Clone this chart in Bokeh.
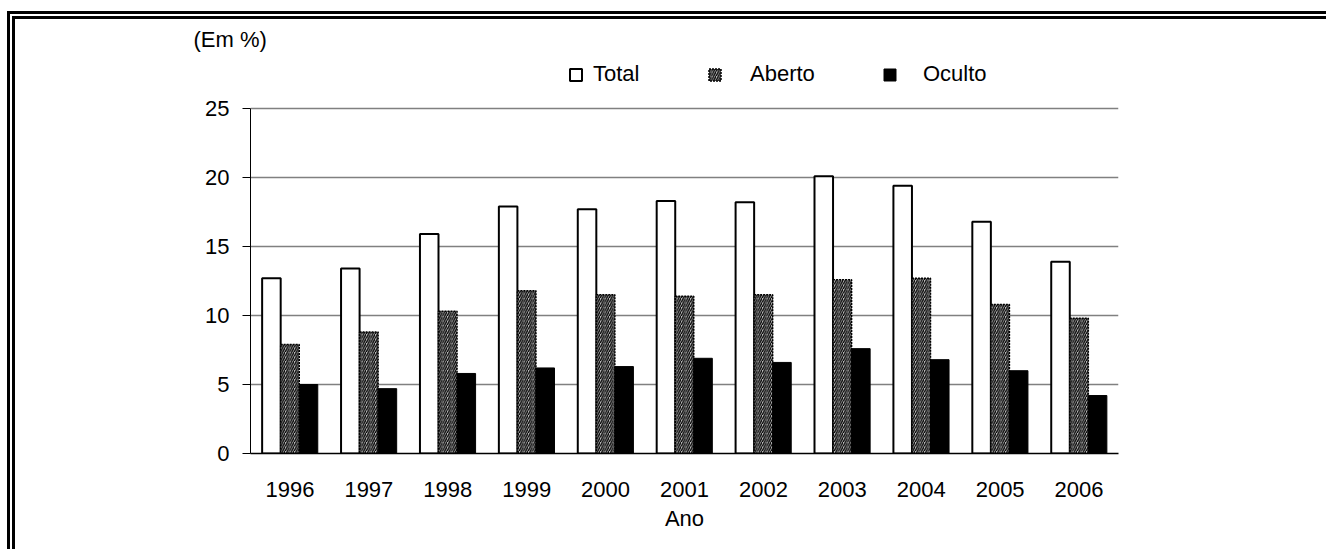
from bokeh.plotting import figure
from bokeh.models import ColumnDataSource, FactorRange, Range1d, FixedTicker, Legend, LegendItem, Title
from bokeh.transform import dodge
from bokeh.embed import file_html
from bokeh.resources import INLINE

years = ["1996", "1997", "1998", "1999", "2000", "2001", "2002", "2003", "2004", "2005", "2006"]
total = [12.7, 13.4, 15.9, 17.9, 17.7, 18.3, 18.2, 20.1, 19.4, 16.8, 13.9]
aberto = [7.9, 8.8, 10.3, 11.8, 11.5, 11.4, 11.5, 12.6, 12.7, 10.8, 9.8]
oculto = [5.0, 4.7, 5.8, 6.2, 6.3, 6.9, 6.6, 7.6, 6.8, 6.0, 4.2]
y_ticks = [0, 5, 10, 15, 20, 25]
y_axis_max = 25
y_view_max = 28.77  # headroom above the axis for the legend

FONT = "Liberation Sans"

src = ColumnDataSource(dict(years=years, total=total, aberto=aberto, oculto=oculto))

p = figure(x_range=FactorRange(*years), y_range=Range1d(0, y_view_max),
           width=1319, height=538, output_backend="svg", toolbar_location=None,
           min_border_left=235, min_border_top=37, min_border_right=216, min_border_bottom=104)
p.styles = {"border-top": "8px double black", "border-left": "8px double black",
            "margin-top": "11px", "margin-left": "7px", "overflow": "hidden"}

bw = 0.235
r_total = p.vbar(x=dodge("years", -0.235, range=p.x_range), top="total", width=bw, source=src,
                 fill_color="white", line_color="black", line_width=2)
r_aberto = p.vbar(x=dodge("years", 0.0, range=p.x_range), top="aberto", width=bw, source=src,
                  fill_color="#bdbdbd", hatch_pattern="/", hatch_color="black", hatch_scale=4.5,
                  hatch_weight=1.3, line_color="black", line_width=1.5, line_dash="2 1")
r_oculto = p.vbar(x=dodge("years", 0.235, range=p.x_range), top="oculto", width=bw, source=src,
                  fill_color="black", line_color="black", line_width=1)

p.outline_line_color = None
p.xgrid.grid_line_color = None
p.ygrid.grid_line_color = "#808080"
p.ygrid.grid_line_width = 1.3
p.ygrid.level = "underlay"

p.yaxis.ticker = FixedTicker(ticks=y_ticks)
p.yaxis.bounds = (0, y_axis_max)
p.yaxis.axis_line_color = "black"
p.yaxis.major_tick_out = 8
p.yaxis.major_tick_in = 0
p.yaxis.minor_tick_line_color = None
p.yaxis.major_label_standoff = 13
p.yaxis.major_label_text_font = FONT
p.yaxis.major_label_text_font_size = "22px"
p.yaxis.major_label_text_color = "black"

p.xaxis.axis_line_color = "black"
p.xaxis.axis_line_width = 1.3
p.xaxis.major_tick_line_color = None
p.xaxis.minor_tick_line_color = None
p.xaxis.major_label_standoff = 22
p.xaxis.major_label_text_font = FONT
p.xaxis.major_label_text_font_size = "22px"
p.xaxis.major_label_text_color = "black"
p.xaxis.axis_label = "Ano"
p.xaxis.axis_label_text_font = FONT
p.xaxis.axis_label_text_font_size = "22px"
p.xaxis.axis_label_text_font_style = "normal"
p.xaxis.axis_label_text_color = "black"
p.xaxis.axis_label_standoff = 6

p.add_layout(Title(text="(Em %)", align="left", offset=-57, standoff=10,
                   text_font=FONT, text_font_size="22px", text_font_style="normal",
                   text_color="black"), "above")

def mk_legend(label, rend, loc, standoff):
    lg = Legend(items=[LegendItem(label=label, renderers=[rend])], location=loc,
                orientation="horizontal", background_fill_alpha=0, border_line_color=None,
                padding=0, margin=0, spacing=0, glyph_width=15, glyph_height=15,
                label_standoff=standoff, label_text_font=FONT, label_text_font_size="22px",
                label_text_color="black")
    p.add_layout(lg)

mk_legend("Total", r_total, (318, 366), 10)
mk_legend("Aberto", r_aberto, (457, 366), 28)
mk_legend("Oculto", r_oculto, (632, 366), 26)

open("out.html", "w").write(file_html(p, INLINE))
